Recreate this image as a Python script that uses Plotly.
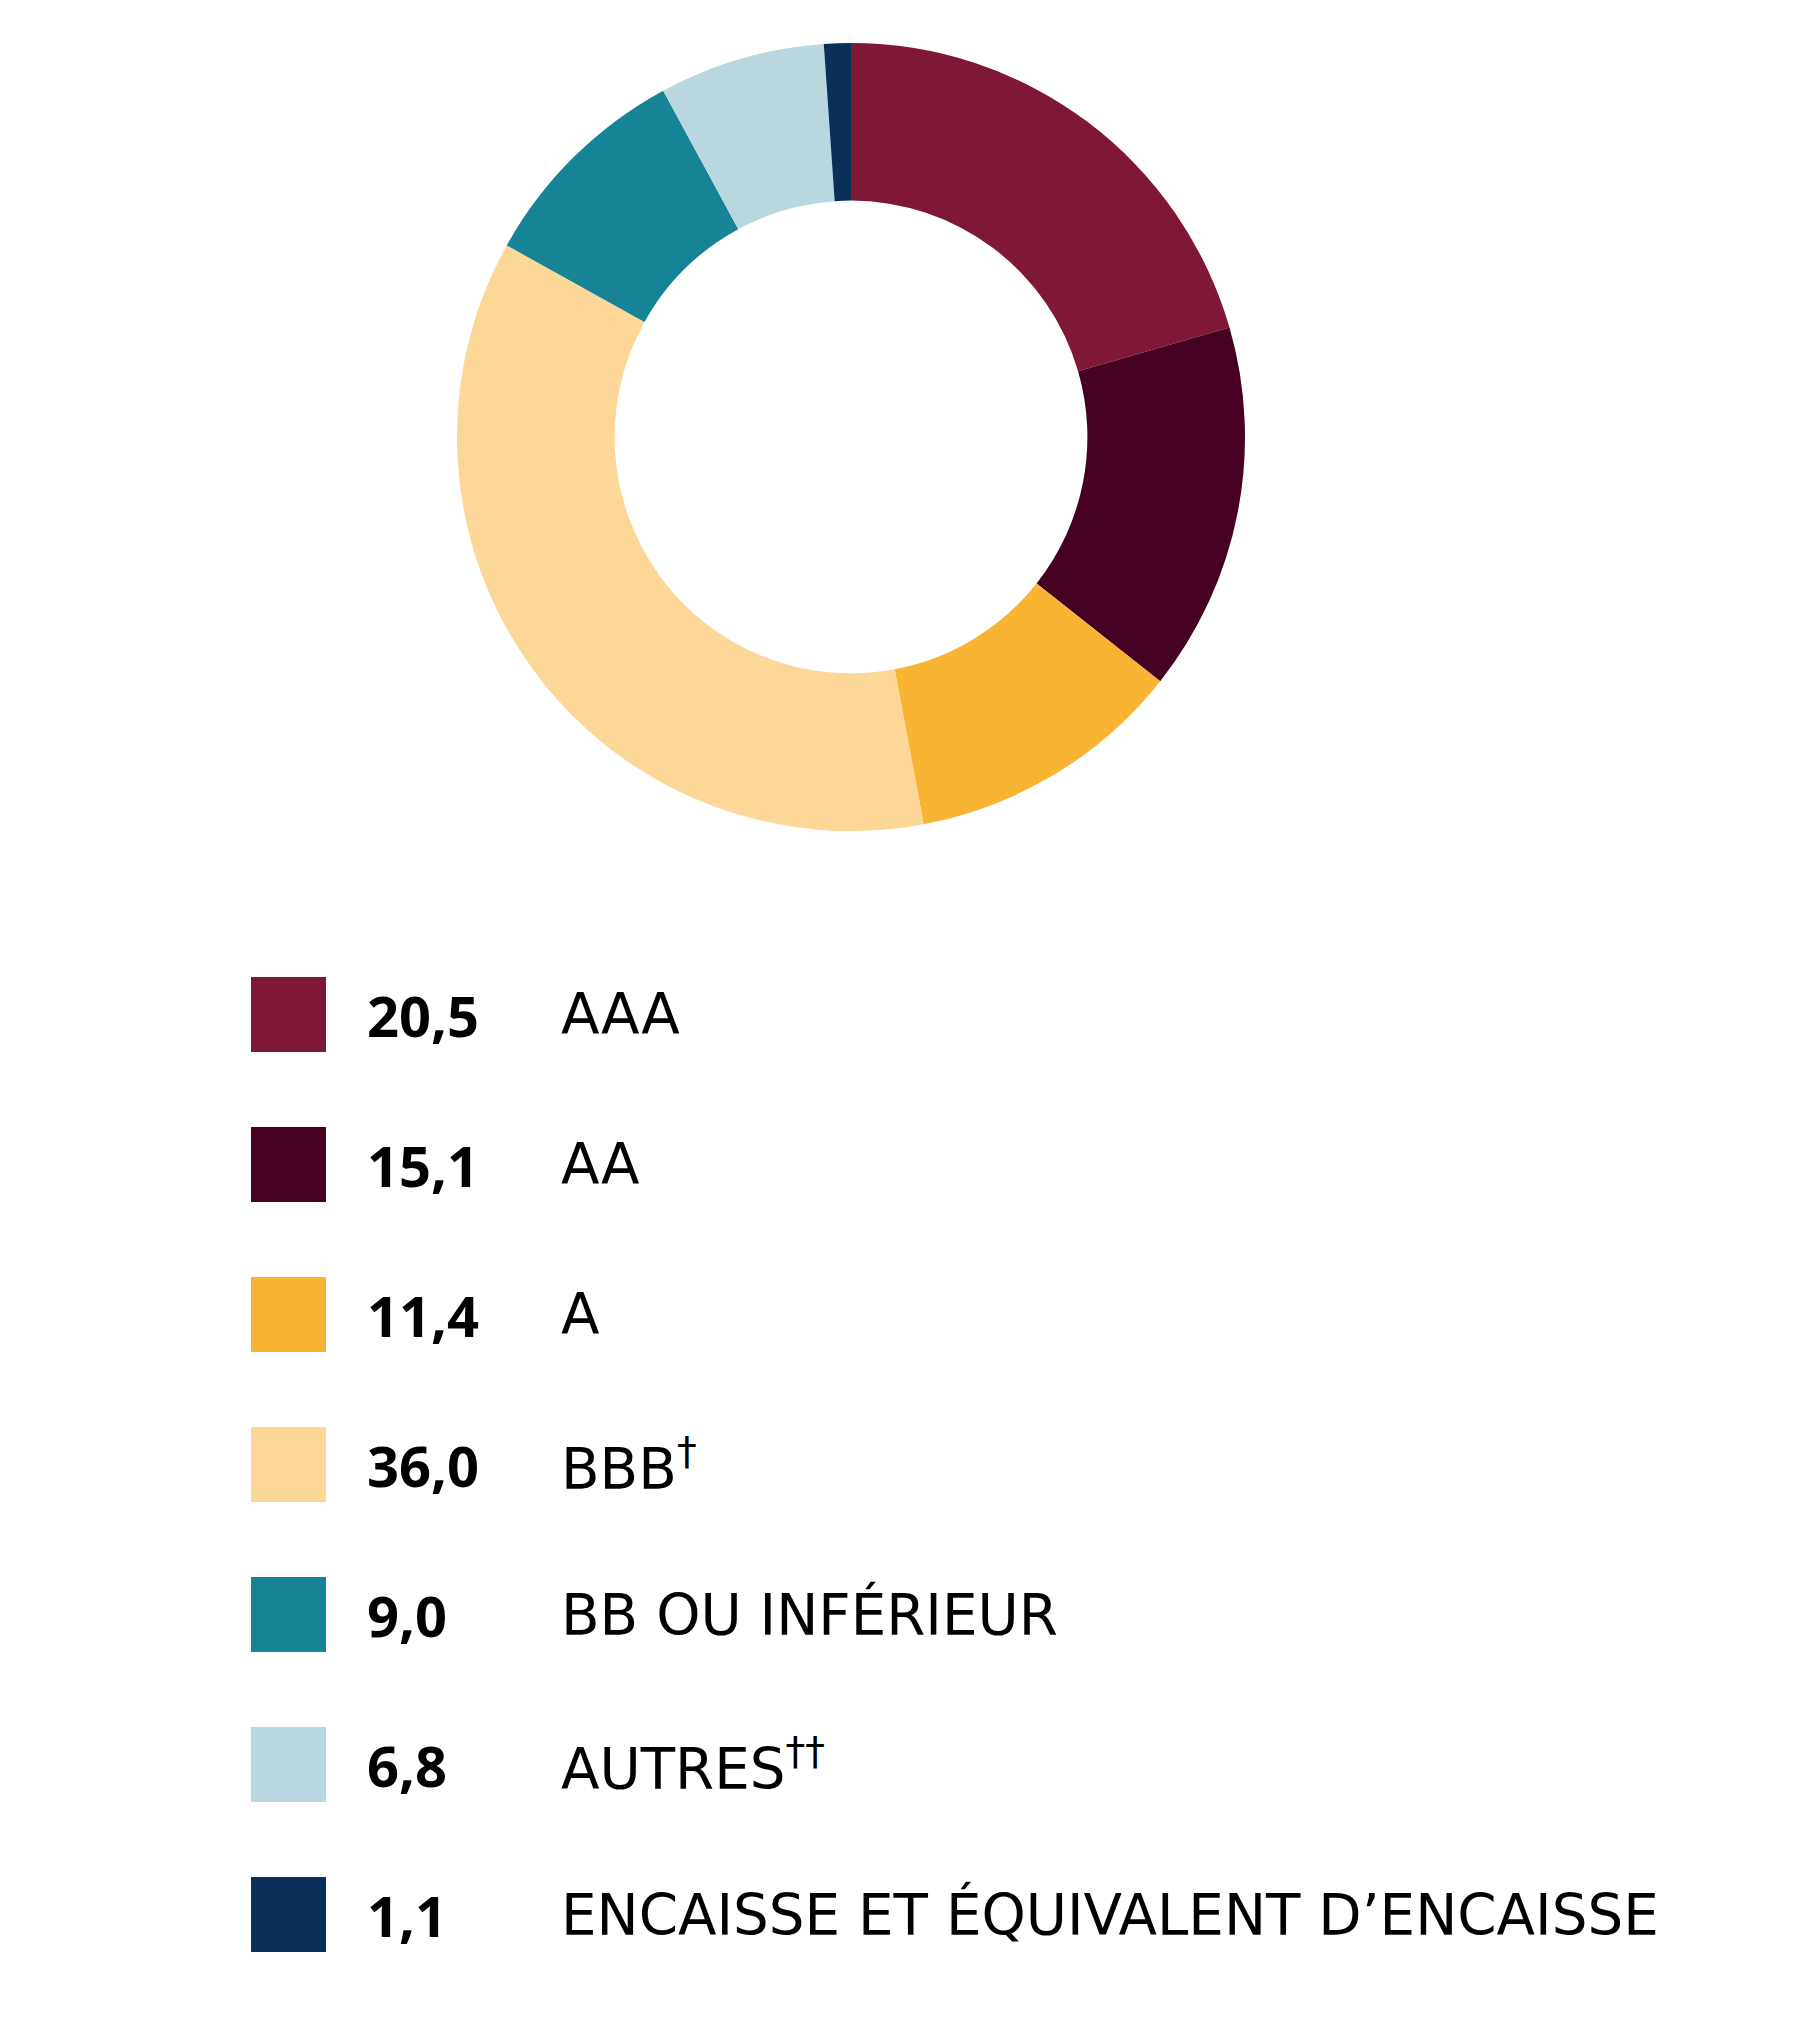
import plotly.graph_objects as go

categories = ["AAA", "AA", "A", "BBB<sup>†</sup>", "BB OU INFÉRIEUR", "AUTRES<sup>††</sup>",
              "ENCAISSE ET ÉQUIVALENT D’ENCAISSE"]
values = [20.5, 15.1, 11.4, 36.0, 9.0, 6.8, 1.1]
value_labels = ["20,5", "15,1", "11,4", "36,0", "9,0", "6,8", "1,1"]
colors = ["#7F1737", "#450022", "#FAB433", "#FDD797", "#168397", "#BAD7DF", "#09305A"]

W, H = 1800, 2018

fig = go.Figure()
fig.add_trace(go.Pie(
    labels=categories,
    values=values,
    marker=dict(colors=colors, line=dict(width=0)),
    hole=0.6,
    sort=False,
    direction="clockwise",
    rotation=0,
    textinfo="none",
    hoverinfo="label+value",
    showlegend=False,
    domain=dict(x=[449 / W, 1237 / W], y=[1 - 823 / H, 1 - 35 / H]),
))

shapes = []
annotations = []
sq_left, sq_right = 243, 318
first_top = 969
step = 150
size = 75
for i, (lab, vl, col) in enumerate(zip(categories, value_labels, colors)):
    top = first_top + i * step
    yc = top + size / 2
    shapes.append(dict(type="rect", xref="paper", yref="paper",
                       x0=sq_left / W, x1=sq_right / W,
                       y0=1 - (top + size) / H, y1=1 - top / H,
                       fillcolor=col, line=dict(width=0)))
    annotations.append(dict(xref="paper", yref="paper", x=357 / W, y=1 - yc / H,
                            xanchor="left", yanchor="middle", showarrow=False,
                            text="<b>" + vl + "</b>",
                            font=dict(family="Open Sans", size=56, color="#000000")))
    annotations.append(dict(xref="paper", yref="paper", x=551 / W, y=1 - yc / H,
                            xanchor="left", yanchor="middle", showarrow=False,
                            text=lab,
                            font=dict(family="DejaVu Sans", size=56.3, color="#000000")))

fig.update_layout(
    width=W, height=H,
    margin=dict(l=0, r=0, t=0, b=0),
    paper_bgcolor="#FFFFFF", plot_bgcolor="#FFFFFF",
    shapes=shapes, annotations=annotations,
)

fig.write_html("out.html")
